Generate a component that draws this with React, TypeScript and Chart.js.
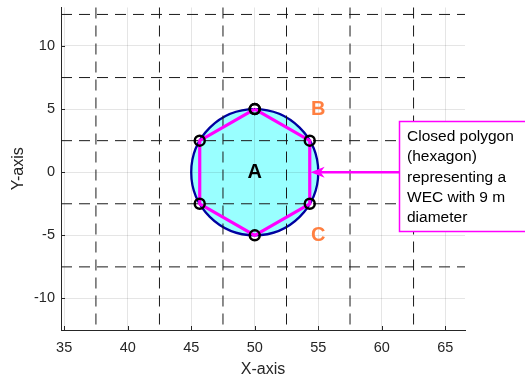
import React, { useEffect, useRef } from "react";
import { Chart, registerables } from "chart.js";

Chart.register(...registerables);

const xTicks = [35, 40, 45, 50, 55, 60, 65];
const yTicks = [-10, -5, 0, 5, 10];
const xLimits = [34.75, 66.55];
const yLimits = [-12.5, 13.05];
const dashedX = [37.5, 42.5, 47.5, 52.5, 57.5, 62.5];
const dashedY = [-7.5, -2.5, 2.5, 7.5, 12.5];
const hexX = [50, 54.33, 54.33, 50, 45.67, 45.67, 50];
const hexY = [5, 2.5, -2.5, -5, -2.5, 2.5, 5];
const circleCenter = [50, 0];
const circleRadius = 5;
const labelText = ["A", "B", "C"];
const labelX = [50, 55, 55];
const labelY = [0, 5, -5];
const labelColors = ["#000000", "#ff7f40", "#ff7f40"];
const annotationLines = [
  "Closed polygon",
  "(hexagon)",
  "representing a",
  "WEC with 9 m",
  "diameter",
];
const arrowTip = [54.4, 0];

const FONT = "'Liberation Sans', Arial, Helvetica, sans-serif";
const AXIS_COLOR = "#262626";

const overlayPlugin = {
  id: "overlay",
  beforeDraw(chart: any) {
    const { ctx, chartArea, scales } = chart;
    const xs = scales.x;
    const ys = scales.y;
    const cx = xs.getPixelForValue(circleCenter[0]);
    const cy = ys.getPixelForValue(circleCenter[1]);
    const rx = xs.getPixelForValue(circleCenter[0] + circleRadius) - cx;
    const ry = cy - ys.getPixelForValue(circleCenter[1] + circleRadius);
    ctx.save();
    ctx.beginPath();
    ctx.rect(chartArea.left, chartArea.top, chartArea.right - chartArea.left, chartArea.bottom - chartArea.top);
    ctx.clip();
    ctx.beginPath();
    ctx.ellipse(cx, cy, rx, ry, 0, 0, Math.PI * 2);
    ctx.fillStyle = "rgb(153,255,255)";
    ctx.fill();
    ctx.lineWidth = 2.3;
    ctx.strokeStyle = "#0000a0";
    ctx.stroke();
    ctx.restore();
  },
  beforeDatasetsDraw(chart: any) {
    const { ctx, chartArea, scales } = chart;
    const xs = scales.x;
    const ys = scales.y;
    ctx.save();
    ctx.strokeStyle = "#1a1a1a";
    ctx.lineWidth = 1;
    ctx.setLineDash([11, 7]);
    dashedX.forEach((v) => {
      const px = xs.getPixelForValue(v);
      ctx.beginPath();
      ctx.moveTo(px, chartArea.top);
      ctx.lineTo(px, chartArea.bottom);
      ctx.stroke();
    });
    dashedY.forEach((v) => {
      const py = ys.getPixelForValue(v);
      ctx.beginPath();
      ctx.moveTo(chartArea.left, py);
      ctx.lineTo(chartArea.right, py);
      ctx.stroke();
    });
    ctx.setLineDash([]);
    // inward tick marks
    ctx.strokeStyle = AXIS_COLOR;
    xTicks.forEach((v) => {
      const px = Math.round(xs.getPixelForValue(v)) + 0.5;
      ctx.beginPath();
      ctx.moveTo(px, chartArea.bottom);
      ctx.lineTo(px, chartArea.bottom - 4);
      ctx.stroke();
    });
    yTicks.forEach((v) => {
      const py = Math.round(ys.getPixelForValue(v)) + 0.5;
      ctx.beginPath();
      ctx.moveTo(chartArea.left, py);
      ctx.lineTo(chartArea.left + 4, py);
      ctx.stroke();
    });
    ctx.restore();
  },
  afterDatasetsDraw(chart: any) {
    const { ctx, scales } = chart;
    const xs = scales.x;
    const ys = scales.y;
    ctx.save();
    ctx.font = `bold 20px ${FONT}`;
    ctx.textAlign = "center";
    ctx.textBaseline = "middle";
    labelText.forEach((t, i) => {
      ctx.fillStyle = labelColors[i];
      ctx.fillText(t, xs.getPixelForValue(labelX[i]), ys.getPixelForValue(labelY[i]));
    });

    // annotation box
    const boxL = 399.5;
    const boxT = 121.5;
    const boxR = 540;
    const boxB = 231.5;
    ctx.fillStyle = "#ffffff";
    ctx.fillRect(boxL, boxT, boxR - boxL, boxB - boxT);
    ctx.strokeStyle = "#ff00ff";
    ctx.lineWidth = 1.5;
    ctx.strokeRect(boxL, boxT, boxR - boxL, boxB - boxT);
    ctx.fillStyle = "#000000";
    ctx.font = `15.5px ${FONT}`;
    ctx.textAlign = "left";
    ctx.textBaseline = "middle";
    annotationLines.forEach((line, i) => {
      ctx.fillText(line, 407, 137 + i * 20.2);
    });

    // arrow
    const tx = xs.getPixelForValue(arrowTip[0]);
    const ty = ys.getPixelForValue(arrowTip[1]);
    ctx.strokeStyle = "#ff00ff";
    ctx.fillStyle = "#ff00ff";
    ctx.lineWidth = 2.5;
    ctx.beginPath();
    ctx.moveTo(boxL, ty);
    ctx.lineTo(tx + 8, ty);
    ctx.stroke();
    ctx.beginPath();
    ctx.moveTo(tx, ty);
    ctx.lineTo(tx + 14, ty - 5.5);
    ctx.lineTo(tx + 10, ty);
    ctx.lineTo(tx + 14, ty + 5.5);
    ctx.closePath();
    ctx.fill();
    ctx.restore();
  },
};

export default function App() {
  const canvasRef = useRef<HTMLCanvasElement | null>(null);

  useEffect(() => {
    document.body.style.margin = "0";
    const canvas = canvasRef.current;
    if (!canvas) return;
    const points = hexX.map((x, i) => ({ x, y: hexY[i] }));
    const chart = new Chart(canvas, {
      type: "scatter",
      data: {
        datasets: [
          {
            data: points,
            showLine: true,
            borderColor: "#ff00ff",
            borderWidth: 3.2,
            pointRadius: 5,
            pointHoverRadius: 5,
            pointBorderWidth: 2.5,
            pointBorderColor: "#000000",
            pointBackgroundColor: "rgba(0,0,0,0)",
          },
        ],
      },
      options: {
        responsive: false,
        animation: false,
        devicePixelRatio: 1,
        layout: { padding: { top: 5, right: 60, left: 0, bottom: 0 } },
        plugins: { legend: { display: false }, tooltip: { enabled: false } },
        scales: {
          x: {
            type: "linear",
            min: xLimits[0],
            max: xLimits[1],
            afterBuildTicks: (scale: any) => {
              scale.ticks = xTicks.map((v) => ({ value: v }));
            },
            afterFit: (scale: any) => {
              scale.height = 53;
              scale.paddingLeft = 0;
              scale.paddingRight = 0;
              scale.paddingTop = 0;
              scale.paddingBottom = 0;
            },
            grid: { color: "rgba(0,0,0,0.1)", drawTicks: false, lineWidth: 1 },
            border: { color: AXIS_COLOR, width: 1 },
            ticks: {
              color: AXIS_COLOR,
              font: { family: FONT, size: 14.5 },
              padding: 9,
              maxRotation: 0,
              autoSkip: false,
            },
            title: {
              display: true,
              text: "X-axis",
              color: AXIS_COLOR,
              font: { family: FONT, size: 16 },
              padding: { top: 0, bottom: 4 },
            },
          },
          y: {
            type: "linear",
            min: yLimits[0],
            max: yLimits[1],
            afterBuildTicks: (scale: any) => {
              scale.ticks = yTicks.map((v) => ({ value: v }));
            },
            afterFit: (scale: any) => {
              scale.width = 61;
              scale.paddingLeft = 0;
              scale.paddingRight = 0;
              scale.paddingTop = 0;
              scale.paddingBottom = 0;
            },
            grid: { color: "rgba(0,0,0,0.1)", drawTicks: false, lineWidth: 1 },
            border: { color: AXIS_COLOR, width: 1 },
            ticks: {
              color: AXIS_COLOR,
              font: { family: FONT, size: 14.5 },
              padding: 6,
              autoSkip: false,
            },
            title: {
              display: true,
              text: "Y-axis",
              color: AXIS_COLOR,
              font: { family: FONT, size: 16 },
              padding: { top: 9, bottom: 0 },
            },
          },
        },
      },
      plugins: [overlayPlugin],
    });
    return () => chart.destroy();
  }, []);

  return (
    <div style={{ width: 525, height: 383 }}>
      <canvas ref={canvasRef} width={525} height={383} />
    </div>
  );
}
